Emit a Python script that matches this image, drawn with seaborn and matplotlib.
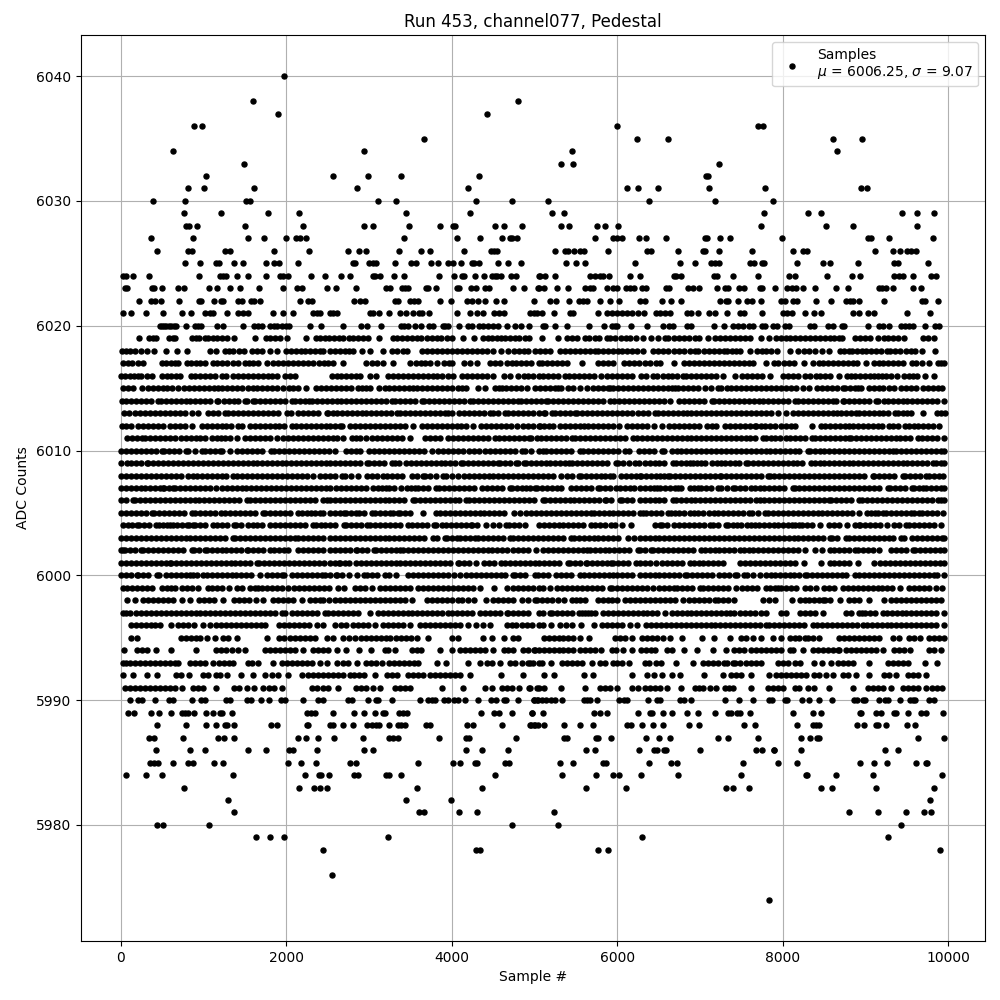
import matplotlib
matplotlib.use('Agg')
import matplotlib.pyplot as plt
import pandas as pd
import seaborn as sns

# sample numbers, one list per ADC level
s6040 = [1967]
s6038 = [1592,4796]
s6037 = [1894,4421]
s6036 = [879,975,6000,7693,7765]
s6035 = [3659,6242,6605,8611,8950]
s6034 = [625,2934,5456,8648]
s6033 = [1483,5323,5468,7233]
s6032 = [1024,2559,2982,3381,4324,7076,7100]
s6031 = [806,999,1604,2849,4191,6121,6254,6496,7112,7789,8938,9010]
s6030 = [383,770,1511,1560,3103,3321,4288,4723,5166,6387,7185,7874]
s6029 = [758,1205,1773,2148,3442,4215,5214,5359,7777,8297,8466,9434,9615,9820]
s6028 = [782,826,915,1495,2196,2934,3043,3478,3853,4018,4042,4518,4626,4844,5323,5420,5758,5855,6012,7729,8515,8841,9615]
s6027 = [359,866,1531,1725,1991,2112,2160,2233,3417,4058,4336,4602,4699,4723,4784,5734,5952,6000,6060,6266,6351,6592,7064,7088,7245,7366,7983,9022,9059,9276,9808]
s6026 = [431,806,854,1253,1314,1846,2269,2740,2873,2958,3357,3623,3732,4143,4469,4506,4542,5250,5371,5408,5480,5553,5601,5891,6363,6411,6737,7028,7064,7233,7632,8116,8237,8285,9107,9325,9409,9494,9542,9603]
s6025 = [770,951,1144,1181,1362,1471,1749,1846,1906,2136,2801,2825,2994,3043,3079,3309,3502,3562,3744,3829,3949,4010,4115,4240,4264,4324,4554,4675,4832,5383,5504,5613,6218,6762,6943,7136,7185,7233,7596,7656,7753,7777,8176,8490,8563,8902,9337,9385,9748]
s6024 = [24,60,141,334,939,1193,1229,1265,1398,1531,1749,1918,1955,2015,2293,2462,2656,2765,3043,3067,3127,3297,3417,3841,4022,4119,4143,4276,4385,4482,4518,4542,4590,4711,4772,5050,5069,5130,5250,5674,5734,5794,5831,5903,6157,6278,6689,6713,6774,7161,7209,7402,7693,8079,8140,8527,8829,8926,9337,9397,9446,9567,9784,9845]
s6023 = [48,72,371,403,492,685,758,1060,1157,1314,1435,1664,1955,2124,2184,2487,2595,2837,3200,3248,3393,3430,3466,3684,3708,3804,4058,4090,4228,4288,4397,4445,4735,4868,5038,5057,5117,5275,5408,5613,5674,5710,5879,5952,6000,6109,6157,6206,6302,6351,6592,6629,6858,6919,6991,7209,7294,7342,7475,7535,7717,7753,7910,8055,8104,8152,8237,8382,8636,8781,9155,9197,9246,9325,9567,9663]
s6022 = [214,359,411,480,697,939,963,1120,1205,1229,1410,1459,1568,1604,1676,2160,2257,2305,2813,2885,2946,3309,3345,3490,3538,3591,3853,3986,4179,4240,4312,4397,4530,4626,4989,5190,5262,5420,5541,5589,5637,5794,5915,6024,6278,6339,6544,6653,6774,7245,7306,7342,7463,7560,7632,7729,7971,8031,8116,8164,8394,8575,8757,8805,8841,8914,9216,9675,9712,9869]
s6021 = [20,117,298,504,733,842,1012,1072,1108,1277,1410,1471,1531,1834,1955,2075,2317,2366,2402,2523,2559,2607,3006,3043,3115,3236,3369,3442,3526,3599,3635,3720,4058,4215,4300,4373,4506,4566,4626,4941,4989,5033,5093,5238,5432,5468,5770,5879,5940,6000,6060,6121,6181,6254,6326,6472,6520,6580,6641,6846,6895,6979,7112,7173,7318,7487,7535,7753,7995,8055,8104,8261,8370,8454,8841,8914,9034,9095,9494,9772]
s6020 = [475,500,525,550,580,600,640,660,782,890,927,963,1157,1229,1471,1604,1652,1700,1797,1846,1880,1942,1991,2027,2281,2418,2680,2898,2970,3139,3381,3420,3466,3550,3623,3720,3768,3889,3920,3949,4082,4191,4240,4332,4373,4433,4494,4554,4663,4760,4832,4929,5105,5130,5250,5396,5661,5843,5940,5970,6000,6169,6363,6556,6629,6677,6846,6895,7161,7282,7402,7463,7523,7584,7644,7741,7789,7874,7934,8031,8079,8322,8370,8539,8611,8708,8732,9022,9155,9215,9276,9421,9470,9518,9567,9712,9833,9881]
s6019 = [222,343,385,423,584,625,657,854,905,948,1010,1052,1110,1165,1218,1277,1370,1624,1749,1800,1866,1920,2003,2240,2353,2410,2465,2520,2580,2640,2688,2752,2805,2860,2925,2990,3123,3284,3340,3400,3455,3515,3575,3630,3700,3756,3816,3870,3935,3998,4139,4272,4373,4430,4490,4540,4590,4643,4700,4760,4815,4880,4937,5093,5287,5395,5450,5510,5609,5661,5725,5780,5871,5911,5970,6045,6100,6153,6230,6314,6403,6490,6576,6617,6680,6745,6810,6870,6935,6991,7100,7181,7241,7300,7362,7420,7480,7545,7604,7733,7826,7918,7975,8035,8090,8150,8210,8270,8330,8390,8450,8510,8565,8620,8672,8712,8873,8930,8990,9050,9143,9216,9275,9335,9395,9458,9692,9750,9829]
s6018 = [8,60,115,169,238,318,399,540,673,794,1076,1148,1257,1310,1358,1430,1490,1579,1640,1700,1801,1882,1991,2050,2110,2170,2230,2290,2350,2400,2446,2527,2590,2650,2710,2760,2809,2910,3010,3172,3272,3340,3413,3462,3643,3700,3760,3820,3880,3940,4000,4060,4120,4180,4240,4300,4360,4420,4502,4590,4683,4745,4805,4865,4925,5005,5060,5125,5186,5307,5365,5425,5490,5550,5610,5670,5730,5770,5830,5890,5950,6010,6060,6113,6173,6240,6314,6435,6495,6555,6615,6680,6745,6810,6875,6939,6979,7048,7112,7170,7225,7282,7322,7380,7435,7483,7604,7685,7745,7800,7860,7926,8088,8188,8257,8320,8390,8470,8551,8684,8740,8793,8833,8900,8960,9002,9063,9125,9190,9256,9297,9360,9420,9490,9546,9598,9679,9841]
s6017 = [28,80,129,201,270,492,545,600,650,693,794,850,905,960,1015,1108,1165,1225,1285,1350,1419,1499,1550,1600,1660,1761,1842,1902,1960,2020,2080,2140,2200,2260,2320,2390,2450,2507,2559,2688,2962,3030,3091,3172,3284,3498,3560,3620,3679,3740,3820,3901,3960,4002,4143,4220,4300,4461,4520,4582,4663,4720,4780,4840,4900,4960,5046,5085,5154,5215,5275,5335,5395,5577,5770,5830,5890,5952,6085,6145,6205,6265,6330,6395,6460,6516,6689,6806,6865,6925,6985,7045,7105,7165,7225,7285,7345,7405,7465,7525,7584,7644,7793,7886,7946,8010,8070,8128,8257,8362,8430,8490,8543,8600,8660,8720,8781,8841,8900,9002,9095,9155,9215,9275,9335,9395,9455,9558,9607,9680,9760,9869,9910,9945]
s6016 = [0,50,105,155,209,242,310,370,500,555,610,660,713,842,900,955,1015,1075,1135,1217,1265,1358,1415,1475,1535,1595,1655,1715,1775,1830,1882,1983,2040,2104,2547,2605,2665,2725,2785,2840,2889,3010,3079,3224,3285,3345,3405,3465,3525,3585,3645,3705,3765,3825,3885,3950,4018,4119,4180,4240,4300,4360,4420,4502,4623,4703,4804,4865,4925,4985,5046,5105,5165,5225,5285,5367,5420,5480,5540,5600,5660,5720,5803,5879,5940,6000,6060,6120,6173,6282,6350,6427,6484,6545,6605,6665,6725,6798,6830,6890,6950,7010,7070,7130,7193,7278,7422,7503,7565,7625,7685,7745,7838,7995,8060,8120,8180,8261,8330,8394,8450,8510,8563,8675,8769,8825,8875,8930,8990,9050,9100,9152,9192,9250,9310,9373,9462,9525,9570,9615,9712,9820]
s6015 = [20,80,149,258,330,390,450,504,552,620,693,762,820,880,940,1000,1060,1120,1177,1217,1280,1340,1400,1460,1530,1600,1640,1700,1760,1820,1880,1963,2031,2085,2136,2233,2358,2415,2475,2535,2595,2655,2715,2775,2869,2910,2960,3010,3123,3185,3245,3305,3365,3425,3480,3534,3575,3635,3695,3755,3815,3875,3935,3995,4078,4119,4171,4312,4401,4522,4565,4602,4655,4715,4775,4835,4905,5005,5065,5125,5185,5245,5287,5315,5408,5457,5549,5638,5700,5760,5820,5880,5912,5944,6005,6065,6125,6185,6245,6305,6365,6425,6485,6545,6605,6665,6695,6727,6790,6850,6916,6976,7064,7130,7217,7257,7318,7378,7438,7498,7558,7618,7678,7738,7798,7858,7918,7978,8038,8098,8158,8241,8313,8410,8470,8530,8590,8650,8723,8755,8815,8875,8903,8943,9035,9095,9155,9215,9285,9345,9426,9490,9550,9607,9687,9750,9810,9870,9928]
s6014 = [8,65,125,185,245,305,365,451,480,540,600,660,720,780,840,900,960,1020,1080,1157,1177,1240,1300,1360,1420,1499,1519,1600,1620,1680,1740,1800,1860,1920,1980,2063,2104,2165,2225,2277,2305,2365,2425,2485,2545,2605,2665,2725,2785,2845,2905,2965,3025,3085,3145,3205,3272,3312,3372,3432,3492,3552,3635,3663,3723,3783,3843,3903,3963,4023,4083,4143,4219,4260,4320,4380,4440,4502,4562,4622,4682,4742,4804,4832,4892,4952,5012,5072,5137,5165,5225,5285,5345,5405,5465,5525,5585,5645,5705,5765,5825,5912,5960,6020,6080,6140,6200,6260,6320,6380,6440,6500,6560,6635,6747,6807,6867,6927,6987,7047,7137,7165,7225,7285,7345,7405,7465,7525,7585,7645,7705,7765,7825,7885,7945,8005,8065,8141,8181,8241,8301,8361,8421,8481,8541,8602,8643,8723,8743,8803,8863,8923,8983,9043,9124,9144,9224,9265,9325,9385,9445,9505,9565,9625,9685,9745,9805,9865,9948]
s6013 = [40,100,165,230,290,350,410,470,530,590,650,710,770,854,935,1056,1116,1176,1257,1298,1358,1418,1478,1538,1598,1658,1718,1778,1838,1898,2003,2055,2144,2204,2264,2324,2384,2486,2507,2567,2607,2667,2727,2787,2847,2907,2967,3027,3087,3147,3207,3267,3333,3373,3433,3493,3553,3613,3673,3733,3793,3853,3913,3957,4006,4086,4146,4206,4266,4326,4386,4461,4502,4562,4643,4683,4743,4803,4863,4923,4983,5046,5108,5128,5208,5249,5309,5369,5429,5490,5510,5570,5638,5690,5750,5810,5870,5930,5990,6050,6110,6173,6253,6313,6373,6454,6494,6554,6614,6674,6734,6795,6835,6895,6955,7015,7075,7135,7195,7255,7315,7375,7435,7495,7555,7615,7675,7735,7795,7855,7940,8040,8120,8180,8240,8300,8360,8420,8480,8540,8600,8651,8703,8763,8823,8883,8924,8975,9035,9095,9155,9215,9275,9357,9385,9445,9505,9546,9687,9856,9910,9960]
s6012 = [8,60,117,210,270,330,390,450,510,592,653,713,773,854,975,1035,1095,1155,1215,1275,1335,1419,1467,1560,1620,1680,1740,1800,1862,1910,1975,2063,2112,2172,2232,2292,2352,2412,2472,2532,2592,2648,2676,2769,2829,2889,2949,3009,3069,3129,3189,3249,3309,3369,3429,3534,3635,3695,3755,3815,3875,3935,3995,4055,4115,4175,4252,4352,4412,4472,4532,4592,4652,4712,4784,4864,4924,4984,5046,5068,5117,5170,5225,5302,5362,5422,5482,5549,5590,5650,5710,5770,5830,5890,5950,6020,6120,6180,6240,6300,6360,6442,6534,6627,6687,6747,6807,6867,6927,6987,7077,7137,7197,7297,7357,7417,7477,7537,7597,7658,7678,7738,7787,7847,7910,7980,8040,8100,8141,8353,8454,8514,8574,8634,8694,8754,8803,8843,8903,8963,9023,9083,9143,9203,9285,9325,9385,9478,9518,9578,9638,9698,9758,9818,9888]
s6011 = [77,137,197,250,290,350,410,470,530,590,653,721,781,841,901,961,1021,1096,1157,1210,1257,1318,1407,1499,1559,1619,1679,1739,1799,1882,1963,2023,2083,2143,2203,2263,2323,2383,2443,2503,2567,2607,2688,2789,2840,2890,2962,3039,3099,3159,3219,3279,3339,3399,3494,3675,3735,3795,3855,3957,4018,4078,4138,4198,4258,4318,4378,4438,4522,4574,4634,4694,4754,4814,4874,4937,4950,5028,5076,5136,5196,5256,5316,5376,5450,5490,5550,5610,5670,5730,5790,5850,5910,5970,6030,6090,6193,6240,6300,6360,6420,6480,6540,6600,6660,6720,6780,6843,6888,6948,7008,7068,7128,7188,7248,7308,7368,7428,7488,7548,7608,7668,7760,7800,7860,7900,7970,8040,8088,8148,8208,8268,8353,8393,8453,8513,8573,8633,8693,8753,8803,8823,8883,8943,9003,9063,9123,9183,9243,9303,9365,9418,9478,9538,9627,9680,9740,9800,9860,9948]
s6010 = [0,60,120,180,240,300,360,420,491,520,580,640,700,785,814,895,975,1015,1075,1135,1197,1225,1318,1407,1467,1527,1587,1647,1707,1810,1854,1914,1974,2034,2094,2154,2214,2274,2334,2394,2454,2514,2587,2720,2780,2840,2889,3002,3062,3122,3182,3242,3302,3362,3422,3482,3542,3602,3662,3756,3837,3897,3957,4017,4077,4139,4211,4271,4331,4401,4461,4521,4581,4641,4701,4761,4844,4884,4953,5046,5100,5140,5200,5260,5320,5380,5440,5542,5582,5642,5702,5762,5822,5882,5942,6002,6092,6145,6265,6325,6385,6445,6534,6566,6654,6714,6774,6834,6894,6954,7014,7074,7134,7194,7254,7314,7374,7434,7494,7554,7614,7674,7734,7800,7840,7900,7960,8020,8080,8140,8200,8302,8322,8382,8442,8502,8562,8622,8682,8742,8802,8862,8922,8982,9042,9102,9162,9222,9282,9325,9365,9425,9485,9545,9605,9665,9725,9785,9845,9905,9950]
s6009 = [0,77,117,180,240,310,330,390,450,510,570,630,690,750,810,870,930,990,1050,1110,1170,1230,1290,1350,1410,1470,1530,1590,1650,1710,1770,1830,1890,1942,1995,2055,2115,2175,2235,2295,2355,2415,2475,2527,2585,2645,2705,2765,2825,2885,2975,2999,3059,3119,3179,3281,3309,3361,3442,3502,3562,3622,3682,3742,3802,3862,3922,3982,4042,4114,4134,4194,4254,4314,4374,4434,4494,4557,4577,4637,4697,4771,4799,4867,4899,4959,5019,5079,5141,5189,5249,5309,5369,5415,5455,5515,5575,5635,5695,5755,5815,5875,5978,6006,6066,6139,6208,6260,6328,6388,6448,6508,6568,6671,6703,6763,6823,6880,6912,6960,7013,7061,7146,7200,7254,7295,7355,7415,7475,7548,7576,7636,7696,7756,7816,7876,7936,7996,8056,8116,8176,8236,8341,8382,8442,8502,8562,8622,8682,8742,8796,8845,8905,8965,9025,9085,9145,9205,9265,9325,9385,9445,9505,9565,9625,9685,9745,9811,9851,9911,9950]
s6008 = [0,60,120,180,240,300,360,420,480,540,600,660,721,814,874,923,975,1035,1095,1155,1215,1275,1358,1407,1467,1527,1587,1647,1707,1767,1827,1887,1947,2007,2067,2127,2187,2247,2325,2406,2466,2527,2590,2677,2705,2785,2866,2975,3035,3095,3168,3216,3276,3336,3402,3522,3582,3651,3671,3732,3812,3893,3933,4003,4074,4142,4202,4262,4322,4382,4442,4502,4562,4622,4682,4742,4802,4862,4922,4982,5042,5102,5162,5222,5322,5391,5451,5535,5564,5624,5684,5744,5805,5845,5905,5946,6039,6099,6159,6219,6268,6288,6348,6408,6469,6510,6560,6610,6638,6698,6758,6818,6878,6938,6998,7058,7118,7178,7234,7254,7314,7374,7434,7494,7554,7614,7674,7734,7818,7838,7898,7958,8018,8078,8138,8198,8258,8318,8378,8438,8498,8558,8618,8678,8738,8798,8858,8918,8978,9086,9106,9166,9226,9286,9346,9449,9481,9541,9601,9661,9730,9771,9831,9891,9940]
s6007 = [0,60,120,180,240,290,350,410,470,512,520,580,633,653,713,773,833,893,953,1013,1076,1149,1217,1277,1337,1397,1457,1517,1577,1637,1697,1757,1817,1877,1937,1997,2057,2117,2177,2237,2297,2357,2417,2477,2527,2596,2656,2716,2776,2836,2896,2956,3047,3108,3155,3200,3241,3300,3390,3458,3505,3551,3591,3651,3711,3812,3845,3905,3965,4025,4085,4145,4205,4263,4364,4424,4484,4544,4604,4698,4730,4790,4850,4899,4940,5000,5028,5088,5148,5208,5268,5322,5443,5503,5563,5623,5683,5765,5785,5845,5905,5986,6026,6086,6146,6206,6268,6328,6397,6437,6475,6510,6570,6630,6690,6731,6771,6872,6925,6973,7013,7073,7133,7214,7254,7325,7395,7423,7483,7543,7617,7657,7717,7777,7837,7897,7957,8017,8120,8140,8200,8260,8320,8380,8440,8500,8560,8620,8680,8740,8800,8860,8920,8980,9040,9100,9160,9267,9296,9356,9416,9476,9561,9589,9640,9690,9730,9790,9850,9910,9950]
s6006 = [0,60,149,169,229,289,349,409,469,529,589,649,709,769,829,889,949,1009,1069,1129,1189,1249,1309,1369,1429,1527,1560,1620,1680,1740,1800,1860,1920,1980,2040,2100,2160,2220,2280,2340,2446,2487,2527,2585,2645,2705,2765,2825,2885,2945,3005,3065,3125,3185,3245,3305,3365,3425,3531,3551,3611,3671,3731,3791,3851,3911,3971,4031,4091,4175,4207,4267,4327,4387,4447,4507,4567,4627,4687,4747,4807,4867,4927,4987,5100,5121,5181,5241,5301,5361,5421,5481,5541,5601,5661,5721,5781,5845,5866,5926,6027,6059,6119,6179,6268,6328,6388,6448,6508,6568,6671,6703,6763,6823,6883,6943,7003,7063,7123,7183,7243,7303,7363,7423,7483,7543,7603,7677,7717,7777,7837,7897,7957,8017,8077,8137,8197,8257,8317,8377,8437,8497,8555,8583,8643,8703,8763,8823,8925,8957,9017,9077,9137,9197,9257,9317,9377,9437,9497,9557,9617,9677,9737,9797,9871,9911,9950]
s6005 = [0,60,120,180,240,300,371,403,463,523,583,643,703,763,854,895,955,1015,1075,1135,1205,1257,1317,1377,1437,1497,1557,1617,1713,1741,1801,1861,1921,1981,2041,2144,2184,2245,2297,2350,2406,2446,2527,2584,2644,2693,2725,2785,2846,2878,2938,3039,3067,3127,3187,3257,3289,3349,3377,3437,3490,3651,3804,3853,3913,3973,4033,4093,4153,4213,4273,4333,4393,4453,4513,4573,4633,4746,4819,4899,4959,5019,5079,5139,5199,5259,5319,5379,5439,5499,5559,5619,5684,5712,5772,5832,5892,5952,6012,6072,6132,6192,6268,6308,6349,6409,6469,6529,6610,6650,6700,6743,6803,6872,6925,6973,7033,7101,7161,7221,7281,7341,7401,7461,7521,7589,7625,7700,7778,7818,7878,7938,7998,8058,8118,8178,8238,8298,8358,8418,8478,8538,8598,8658,8718,8778,8838,8925,9014,9066,9118,9147,9215,9247,9307,9367,9427,9487,9549,9589,9650,9682,9742,9802,9862,9940]
s6004 = [28,80,130,189,222,282,342,423,463,510,560,592,625,681,741,802,826,866,895,955,1015,1116,1165,1225,1285,1366,1390,1450,1539,1592,1648,1708,1801,1862,1922,1982,2042,2102,2162,2222,2325,2357,2417,2466,2524,2584,2693,2725,2785,2845,2905,2975,3015,3075,3135,3188,3249,3309,3369,3470,3522,3582,3642,3702,3780,3812,3885,3933,3993,4053,4113,4173,4235,4247,4307,4416,4497,4565,4650,4686,4746,4806,4879,5048,5108,5168,5228,5288,5348,5408,5468,5528,5588,5684,5725,5785,5845,5926,5966,6059,6168,6457,6510,6542,6600,6683,6743,6803,6863,6923,6983,7043,7113,7154,7214,7307,7335,7395,7440,7496,7564,7610,7657,7709,7766,7826,7886,7946,8006,8066,8112,8140,8200,8229,8289,8349,8442,8555,8615,8675,8772,8865,8925,8933,8993,9053,9113,9173,9255,9348,9408,9489,9529,9589,9649,9709,9769,9829,9912]
s6003 = [0,60,120,180,240,300,360,420,480,540,600,660,720,780,840,900,960,1020,1080,1140,1200,1260,1358,1378,1438,1498,1558,1618,1678,1738,1798,1858,1918,1978,2038,2098,2144,2204,2264,2324,2384,2444,2527,2585,2645,2705,2765,2825,2885,2945,3005,3065,3125,3185,3245,3305,3365,3425,3485,3545,3605,3665,3772,3820,3913,3941,4000,4062,4102,4162,4222,4275,4316,4376,4436,4496,4556,4616,4698,4738,4798,4858,4918,4978,5038,5098,5158,5218,5278,5338,5443,5471,5531,5591,5651,5711,5771,5831,5891,5951,6011,6127,6196,6268,6328,6388,6448,6508,6568,6628,6688,6748,6808,6868,6928,6988,7048,7108,7168,7228,7288,7348,7408,7468,7528,7588,7648,7708,7768,7828,7888,7948,8008,8068,8128,8188,8248,8308,8368,8428,8488,8563,8595,8655,8764,8796,8856,8916,8976,9036,9096,9156,9216,9276,9336,9428,9469,9561,9621,9681,9741,9801,9861,9921,9950]
s6002 = [0,28,48,108,168,238,270,330,390,450,510,570,630,690,750,854,882,942,1015,1035,1095,1155,1215,1275,1335,1395,1455,1519,1539,1599,1659,1719,1801,1854,1914,1974,2023,2136,2196,2256,2316,2376,2436,2527,2585,2645,2705,2765,2838,2854,2914,2974,3055,3080,3140,3200,3260,3320,3378,3410,3470,3530,3590,3650,3710,3770,3830,3890,3950,4010,4070,4130,4190,4250,4310,4370,4430,4490,4550,4610,4666,4738,4798,4858,4918,5020,5101,5161,5221,5281,5341,5401,5461,5521,5581,5632,5664,5724,5784,5844,5904,5964,6024,6084,6144,6248,6268,6328,6409,6429,6489,6549,6609,6669,6729,6789,6849,6909,7013,7053,7113,7173,7233,7293,7353,7413,7484,7524,7584,7644,7704,7764,7824,7884,7944,8004,8064,8124,8184,8261,8382,8474,8563,8623,8683,8743,8803,8865,8905,8965,9025,9085,9167,9308,9368,9428,9488,9569,9601,9661,9721,9781,9841,9901,9952]
s6001 = [0,60,120,180,240,300,360,420,480,540,592,604,664,724,784,844,904,964,1024,1084,1144,1204,1264,1324,1384,1444,1504,1564,1640,1668,1728,1788,1848,1908,1968,2028,2088,2148,2208,2268,2328,2388,2448,2527,2585,2637,2653,2710,2757,2838,2898,2958,3018,3078,3138,3198,3258,3318,3378,3438,3498,3558,3618,3678,3738,3798,3858,3918,3978,4074,4086,4146,4206,4296,4384,4444,4504,4597,4638,4698,4758,4818,4878,4938,4998,5058,5118,5178,5238,5298,5403,5431,5491,5551,5616,5632,5692,5752,5812,5872,5926,5946,6006,6066,6126,6228,6268,6328,6388,6469,6542,6602,6662,6722,6782,6880,6920,6980,7040,7100,7160,7220,7275,7484,7544,7604,7664,7724,7784,7844,7904,7964,8024,8084,8144,8249,8462,8563,8623,8683,8743,8803,8905,9106,9175,9235,9295,9355,9415,9475,9535,9595,9655,9715,9775,9835,9895,9952]
s6000 = [0,60,120,189,209,269,329,431,463,544,604,664,724,784,834,875,923,996,1036,1096,1156,1216,1276,1336,1396,1456,1516,1576,1680,1761,1821,1881,1942,1971,2065,2125,2185,2245,2305,2365,2426,2466,2527,2596,2613,2673,2757,2854,2935,2975,3035,3095,3188,3241,3329,3470,3530,3591,3651,3711,3771,3831,3891,3951,4022,4102,4167,4227,4287,4347,4407,4467,4527,4587,4647,4738,4758,4818,4878,5000,5040,5101,5161,5254,5314,5374,5434,5544,5592,5652,5712,5772,5832,5892,5946,5994,6054,6114,6174,6268,6328,6388,6448,6508,6568,6628,6688,6748,6812,6840,6900,6960,7020,7080,7140,7226,7287,7347,7415,7444,7524,7564,7640,7725,7790,7850,7910,7970,8030,8088,8128,8190,8261,8293,8353,8413,8473,8533,8593,8653,8713,8764,8865,8925,8985,9045,9105,9165,9225,9285,9345,9405,9465,9525,9585,9645,9705,9765,9831,9863,9952]
s5999 = [20,77,137,197,257,317,371,492,552,600,653,733,793,853,935,1056,1105,1157,1217,1306,1407,1467,1560,1620,1660,1700,1761,1821,1881,1941,2023,2096,2156,2216,2276,2336,2396,2456,2516,2628,2696,2829,2889,2949,3031,3131,3191,3251,3311,3371,3431,3491,3595,3655,3715,3775,3835,3895,3957,4018,4078,4138,4198,4258,4340,4510,4663,4735,4795,4855,4915,4975,5046,5100,5189,5269,5329,5389,5449,5509,5569,5629,5689,5749,5809,5912,5932,5992,6052,6112,6172,6232,6293,6353,6434,6506,6562,6626,6683,6723,6783,6843,6903,6996,7036,7096,7156,7216,7276,7336,7438,7510,7570,7630,7690,7799,7847,7900,7940,7980,8040,8100,8153,8261,8330,8402,8502,8562,8622,8722,8783,8843,8903,8963,9023,9083,9143,9203,9263,9323,9414,9526,9586,9646,9706,9766,9855,9928]
s5998 = [77,169,270,330,390,450,510,570,630,733,834,947,1007,1067,1127,1237,1366,1426,1486,1546,1628,1721,1842,1902,1962,2022,2082,2184,2285,2345,2405,2446,2515,2587,2647,2707,2767,2827,2887,2947,3007,3067,3127,3187,3247,3307,3367,3434,3522,3703,3763,3823,3883,3943,4003,4078,4119,4190,4268,4413,4502,4554,4614,4674,4734,4844,4925,5008,5028,5088,5148,5208,5277,5349,5450,5500,5550,5610,5771,5831,5891,5932,6000,6092,6152,6213,6273,6333,6393,6453,6513,6573,6633,6693,6795,6867,6927,6987,7047,7107,7177,7217,7277,7337,7406,7759,7830,7899,8108,8201,8261,8321,8381,8441,8490,8514,8574,8691,8803,8863,8923,9044,9217,9305,9365,9425,9485,9545,9605,9665,9725,9785,9845,9908]
s5997 = [20,60,109,181,241,301,361,421,481,541,601,661,721,781,841,901,961,1021,1076,1136,1196,1256,1316,1376,1436,1496,1556,1616,1676,1736,1796,1856,1943,1983,2071,2131,2191,2251,2311,2371,2466,2507,2567,2627,2687,2747,2807,2869,3010,3103,3163,3223,3283,3343,3403,3463,3523,3583,3643,3703,3763,3823,3883,3957,3998,4058,4118,4178,4240,4340,4400,4460,4520,4580,4663,4683,4743,4803,4863,4923,5046,5100,5189,5209,5269,5329,5389,5449,5530,5570,5610,5639,5685,5731,5823,5883,5943,6003,6063,6123,6183,6243,6303,6363,6423,6483,6574,6655,6715,6775,6835,6895,6955,7015,7075,7135,7195,7255,7315,7357,7406,7486,7546,7606,7666,7739,7799,7980,8040,8209,8269,8329,8389,8482,8763,8823,8923,8952,8992,9052,9112,9205,9253,9313,9373,9433,9493,9553,9613,9673,9733,9793,9853,9952]
s5996 = [117,177,237,297,357,417,471,604,693,753,813,882,995,1076,1149,1209,1269,1329,1389,1449,1509,1569,1629,1689,1741,1914,1974,2034,2094,2154,2214,2274,2366,2446,2587,2660,2720,2809,2869,2929,2989,3071,3172,3232,3292,3352,3412,3494,3615,3675,3735,3795,3855,3915,3975,4035,4095,4199,4288,4381,4461,4663,4720,4776,4844,4904,4964,5046,5100,5197,5301,5380,5450,5558,5711,5811,5871,5931,5991,6051,6153,6233,6345,6405,6465,6525,6585,6645,6705,6765,6825,6885,6945,7005,7065,7125,7185,7245,7305,7365,7425,7485,7545,7605,7665,7725,7799,7831,7891,7951,8011,8071,8131,8191,8251,8361,8410,8470,8530,8590,8650,8710,8770,8830,8890,8963,9012,9072,9132,9192,9252,9312,9372,9432,9492,9552,9612,9672,9732,9792,9852,9952]
s5995 = [117,197,721,781,841,901,961,1043,1136,1237,1297,1398,1769,1914,1971,2043,2103,2163,2223,2283,2346,2487,2567,2688,2760,2829,2898,2958,3018,3078,3138,3198,3252,3325,3385,3445,3505,3574,3716,3998,4078,4372,4481,4623,4735,4804,5108,5168,5228,5288,5348,5408,5468,5550,5651,5972,6032,6092,6173,6293,6353,6413,6482,6546,6635,6775,7016,7169,7358,7498,7558,7639,7739,7880,7980,8080,8140,8200,8261,8301,8361,8434,8683,8743,8803,8863,8923,8983,9043,9103,9165,9325,9397,9526,9586,9655,9767,9827,9887,9948]
s5994 = [36,189,250,318,419,600,907,1149,1209,1269,1338,1419,1499,1741,1801,1861,1921,1981,2041,2101,2205,2318,2378,2438,2498,2607,2716,2882,3019,3192,3232,3317,3514,3574,3623,3857,3998,4098,4158,4218,4278,4338,4398,4502,4623,4683,4743,4856,4925,5005,4988,5048,5108,5168,5228,5288,5348,5408,5468,5550,5610,5670,5730,5799,5932,5984,6072,6173,6281,6341,6401,6454,6602,6655,6803,6964,7157,7317,7406,7466,7526,7618,7679,7739,7799,7859,7919,7979,8080,8120,8241,8361,8421,8481,8541,8601,8663,8683,8763,8823,8883,8943,9003,9063,9123,9205,9345,9405,9466,9534,9767,9827,9908]
s5993 = [20,60,109,169,229,289,349,409,469,529,589,649,693,834,894,954,1014,1116,1189,1249,1309,1358,1539,1580,1660,1842,1943,2003,2063,2123,2183,2243,2303,2406,2487,2607,2688,2748,2849,2962,3022,3082,3151,3244,3304,3364,3424,3484,3544,3595,3817,3929,4200,4341,4421,4481,4582,4703,4763,4844,4925,4985,5046,4948,5088,5197,5329,5389,5449,5509,5569,5691,5791,5851,5944,6000,6060,6145,6333,6386,6466,6522,6707,6916,7036,7096,7156,7216,7285,7325,7398,7418,7486,7558,7618,7679,7739,7940,8000,8060,8141,8209,8381,8474,8582,8663,8723,8783,8843,9036,9265,9325,9385,9445,9506,9711,9867]
s5992 = [20,149,310,431,665,725,826,995,1055,1149,1197,1277,1447,1600,1741,1830,1902,2023,2184,2265,2325,2385,2445,2505,2565,2625,2685,2769,2817,2877,2937,3071,3212,3272,3341,3474,3534,3594,3654,3736,3796,3856,3916,3976,4036,4096,4219,4590,4864,5116,5229,5590,5703,6181,6361,6442,6534,6655,6755,7048,7277,7378,7438,7498,7618,7831,7920,7980,8040,8100,8160,8220,8280,8381,8434,8522,8610,8723,8783,8883,9036,9225,9285,9365,9506,9566,9627,9735]
s5991 = [48,108,168,228,288,348,408,468,528,588,648,733,866,926,987,1144,1366,1426,1527,1608,1713,1794,1854,1942,2305,2365,2440,2507,2628,2842,2902,2962,3051,3131,3312,3372,3432,3494,3885,4139,4401,4481,4602,4662,4723,4816,4937,5025,4948,5049,5108,5321,5610,5791,5851,5911,5992,6173,6253,6333,6393,6453,6513,6594,6767,6936,6986,7036,7116,7197,7297,7350,7398,7618,7819,7880,7940,8000,8140,8200,8301,8381,8562,8843,9024,9084,9144,9204,9305,9446,9506,9566,9627,9727,9807,9867,9928]
s5990 = [105,201,250,407,576,625,854,963,1012,1265,1314,1519,1568,1689,1785,1930,1979,2196,2378,2438,2740,2789,2982,3079,3103,3272,3611,3708,3756,3792,3901,3949,4022,4070,4155,4312,4469,4530,4626,4651,4796,4989,5025,4997,5045,5093,5142,5202,5250,5335,5601,5637,5674,5758,6024,6085,6121,6375,6484,6520,6750,6810,6883,7294,7475,7644,7826,7862,8031,8055,8225,8309,8430,8587,8853,8890,8962,8986,9155,9228,9264,9409,9530,9567,9591,9760,9820]
s5989 = [81,153,359,455,600,733,770,806,878,1024,1108,1193,1217,1338,2245,2293,2342,2559,2813,2934,3067,3164,3188,3357,3406,3454,4348,4506,4566,4723,4965,4972,5105,5722,5794,5879,6254,6399,6423,6556,6665,6846,6979,7185,7342,7378,7439,7487,7608,8116,8358,8466,8926,8938,9119,9191,9337,9361,9506,9663,9724,9929]
s5988 = [431,782,1024,1144,1253,1277,1362,1809,1882,2245,2265,2523,2559,2680,2801,2970,3031,3079,3115,3236,3345,3381,3430,3684,3732,4179,4252,4602,4941,4989,5038,4960,5009,5117,5359,5553,5710,6121,6169,6302,6435,6556,6870,6991,7535,7668,8164,8358,8394,8430,8890,8974,9119,9143,9240,9494,9591]
s5987 = [334,395,746,1169,1241,1362,2136,2233,2378,2571,2922,3236,3285,3345,3841,4167,4203,4772,5359,5396,5746,5770,5927,6351,6508,6641,7221,7342,7693,8213,8333,8406,8430,9627,9941]
s5986 = [419,830,1012,1531,1749,2027,2075,2366,2934,3043,4167,4361,4675,5625,5734,6266,6447,6484,6568,6592,7003,7680,7741,7886,7898,8213,9228,9385]
s5985 = [347,395,443,625,806,866,1120,1229,2015,2172,2354,2765,2837,3587,4010,4094,4276,4300,4639,4687,5311,5468,5831,5867,6387,6653,6725,7523,7946,8164,8926,9095,9252,9603,9724,9740]
s5984 = [56,298,492,1350,2221,2390,2414,2511,2813,2861,3200,3236,3381,4518,5335,5746,5952,6024,6290,6737,7499,8273,8285,8636,9083,9917]
s5983 = [758,2148,2329,2402,2487,3575,4361,5625,6109,7306,7402,7584,8454,8599,9119,9820]
s5982 = [1290,3442,3986,9772]
s5981 = [1362,3599,3659,4082,4300,5238,8793,9143,9482,9700,9784]
s5980 = [431,504,1060,4723,5287,9421]
s5979 = [1628,1797,1967,3224,6302,9264]
s5978 = [2438,4288,4336,5770,5891,9893]
s5976 = [2547]
s5974 = [7826]

level_samples = [
    (6040,s6040),(6038,s6038),(6037,s6037),(6036,s6036),(6035,s6035),(6034,s6034),(6033,s6033),(6032,s6032),
    (6031,s6031),(6030,s6030),(6029,s6029),(6028,s6028),(6027,s6027),(6026,s6026),(6025,s6025),(6024,s6024),
    (6023,s6023),(6022,s6022),(6021,s6021),(6020,s6020),(6019,s6019),(6018,s6018),(6017,s6017),(6016,s6016),
    (6015,s6015),(6014,s6014),(6013,s6013),(6012,s6012),(6011,s6011),(6010,s6010),(6009,s6009),(6008,s6008),
    (6007,s6007),(6006,s6006),(6005,s6005),(6004,s6004),(6003,s6003),(6002,s6002),(6001,s6001),(6000,s6000),
    (5999,s5999),(5998,s5998),(5997,s5997),(5996,s5996),(5995,s5995),(5994,s5994),(5993,s5993),(5992,s5992),
    (5991,s5991),(5990,s5990),(5989,s5989),(5988,s5988),(5987,s5987),(5986,s5986),(5985,s5985),(5984,s5984),
    (5983,s5983),(5982,s5982),(5981,s5981),(5980,s5980),(5979,s5979),(5978,s5978),(5976,s5976),(5974,s5974),
]

rows = []
for adc, samples in level_samples:
    for n in samples:
        rows.append((n, adc))
df = pd.DataFrame(rows, columns=['sample', 'adc'])

fig, ax = plt.subplots(figsize=(10, 10), dpi=100)
sns.scatterplot(data=df, x='sample', y='adc', color='black', marker='.', s=52,
                edgecolor='black', linewidth=1, zorder=2, ax=ax,
                label='Samples\n$\\mu$ = 6006.25, $\\sigma$ = 9.07')
ax.set_xlim(-483, 10442)
ax.set_title('Run 453, channel077, Pedestal')
ax.set_xlabel('Sample #')
ax.set_ylabel('ADC Counts')
ax.grid(True)
ax.legend(loc='upper right')
fig.subplots_adjust(left=0.081, right=0.985, top=0.965, bottom=0.059)
plt.savefig('out.png')
